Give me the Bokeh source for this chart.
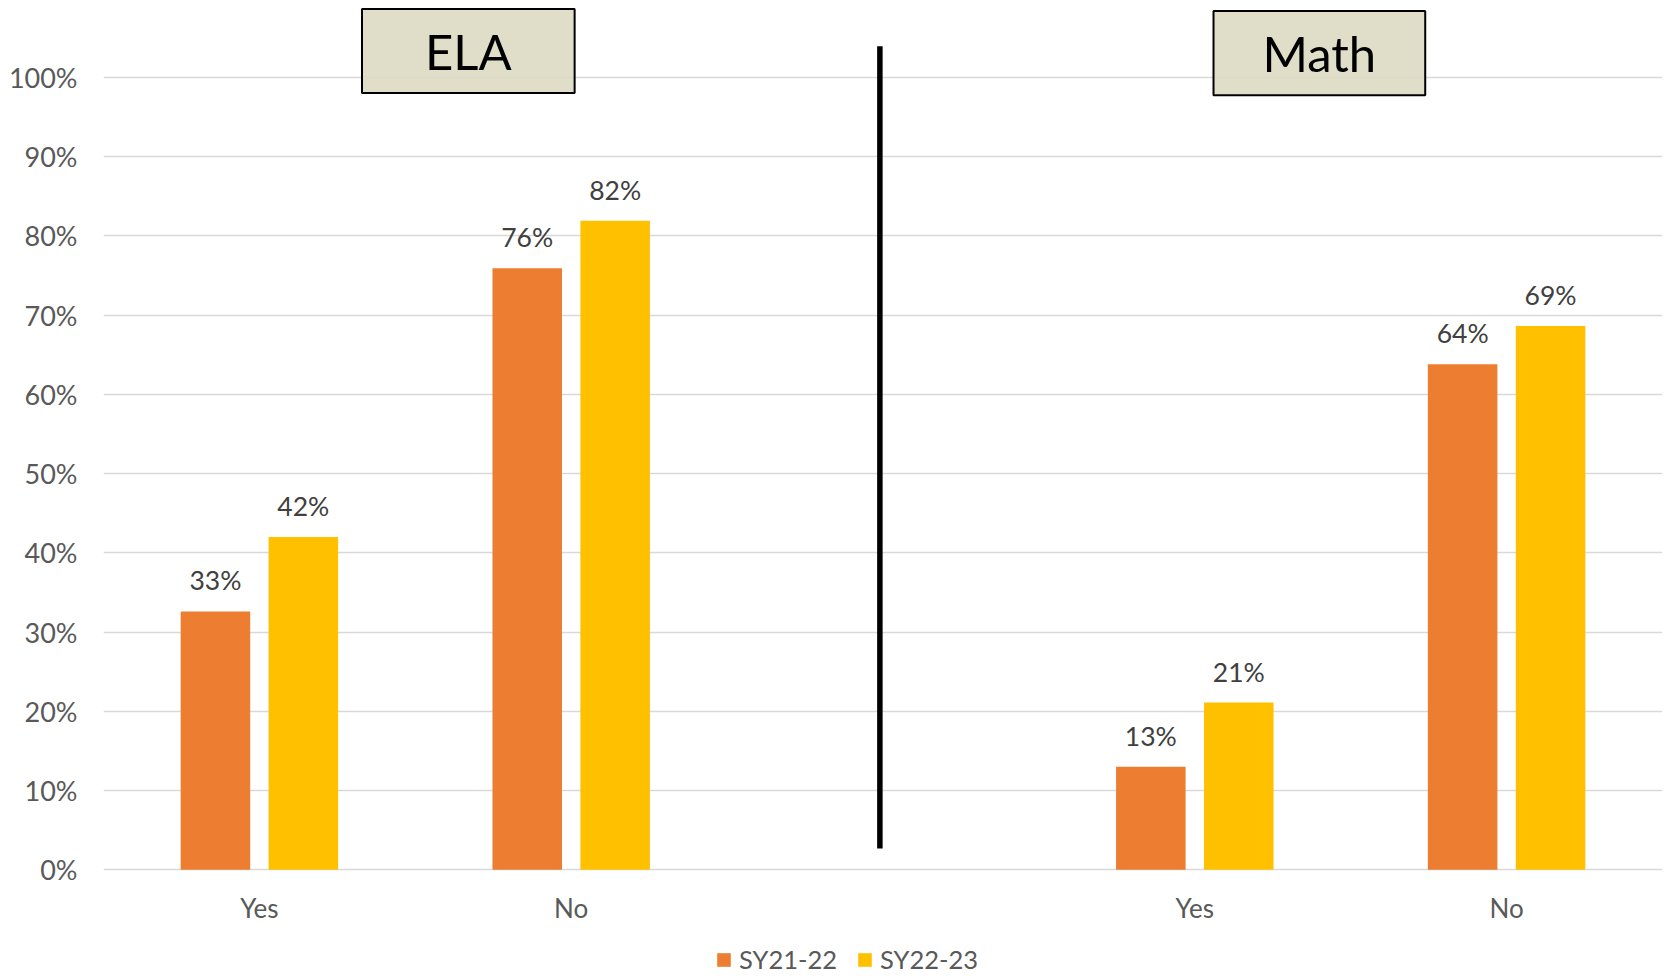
from bokeh.plotting import figure
from bokeh.models import (FixedTicker, PrintfTickFormatter, Range1d, Legend, LegendItem)
from bokeh.core.properties import value
from bokeh.embed import file_html
from bokeh.resources import INLINE

# ---- data ----
subjects = ["ELA", "ELA", "Math", "Math"]
responses = ["Yes", "No", "Yes", "No"]
series_names = ["SY21-22", "SY22-23"]
sy21_22 = [32.6, 75.9, 13.0, 63.8]
sy22_23 = [42.0, 81.9, 21.1, 68.6]
y_ticks = [0, 10, 20, 30, 40, 50, 60, 70, 80, 90, 100]
panel_titles = ["ELA", "Math"]

# ---- styling ----
ORANGE = "#ED7D31"
YELLOW = "#FFC000"
FONT = "Lato"
AXIS_GRAY = "#595959"
LABEL_GRAY = "#404040"

# category slots: ELA Yes, ELA No, (gap), Math Yes, Math No
slot = [i + (1 if subjects[i] == "Math" else 0) + 0.5 for i in range(len(subjects))]
bar_w = 0.223
off = 0.141

p = figure(width=1665, height=976, output_backend="svg", toolbar_location=None,
           title=None, x_range=Range1d(0, 5), y_range=Range1d(-13.46, 109.68),
           min_border_left=103, min_border_right=3, min_border_top=0, min_border_bottom=0)
p.outline_line_color = None
p.background_fill_color = "white"
p.xgrid.visible = False
p.ygrid.ticker = FixedTicker(ticks=y_ticks)
p.ygrid.grid_line_color = "#D9D9D9"
p.ygrid.grid_line_width = 1.5

# y axis
ya = p.yaxis[0]
ya.ticker = FixedTicker(ticks=y_ticks)
ya.formatter = PrintfTickFormatter(format="%d%%")
ya.axis_line_color = None
ya.major_tick_line_color = None
ya.minor_tick_line_color = None
ya.major_tick_out = 0
ya.major_label_standoff = 26
ya.major_label_text_font = FONT
ya.major_label_text_font_size = "27px"
ya.major_label_text_color = AXIS_GRAY

# x axis at y = 0
xa = p.xaxis[0]
xa.fixed_location = 0
xa.ticker = FixedTicker(ticks=slot)
xa.major_label_overrides = {s: r for s, r in zip(slot, responses)}
xa.axis_line_color = None
xa.major_tick_line_color = None
xa.minor_tick_line_color = None
xa.major_tick_out = 0
xa.major_label_standoff = 22
xa.major_label_text_font = FONT
xa.major_label_text_font_size = "26px"
xa.major_label_text_color = AXIS_GRAY

# bars
x1 = [s - off for s in slot]
x2 = [s + off for s in slot]
r1 = p.vbar(x=x1, top=sy21_22, width=bar_w, bottom=0, fill_color=ORANGE, line_color=None)
r2 = p.vbar(x=x2, top=sy22_23, width=bar_w, bottom=0, fill_color=YELLOW, line_color=None)

def lbl(vals):
    return [f"{int(v + 0.5)}%" for v in vals]

for xs, vals in ((x1, sy21_22), (x2, sy22_23)):
    p.text(x=xs, y=vals, text=lbl(vals), y_offset=-31, text_align="center",
           text_baseline="middle", text_font=value(FONT), text_font_size="26.5px",
           text_color=LABEL_GRAY)

# divider line
p.segment(x0=[2.49], y0=[2.69], x1=[2.49], y1=[103.9], line_color="black",
          line_width=5.5, line_cap="butt")

# title boxes
box_left = [0.829, 3.560]
box_right = [1.511, 4.239]
box_top = [108.6, 108.34]
box_bottom = [98.0, 97.74]
p.quad(left=box_left, right=box_right, top=box_top, bottom=box_bottom,
       fill_color="#DDD9C3", fill_alpha=0.9, line_color="black", line_width=2)
p.text(x=[(a + b) / 2 for a, b in zip(box_left, box_right)],
       y=[(a + b) / 2 for a, b in zip(box_top, box_bottom)],
       text=panel_titles, text_align="center", text_baseline="middle",
       text_font=value(FONT), text_font_size="49px", text_color="black")

# legend
legend = Legend(items=[LegendItem(label=series_names[0], renderers=[r1]),
                       LegendItem(label=series_names[1], renderers=[r2])],
                orientation="horizontal", location=(612, 2))
legend.padding = 0
legend.margin = 0
legend.spacing = 19
legend.label_standoff = 7
legend.glyph_width = 17
legend.glyph_height = 17
legend.label_text_font = FONT
legend.label_text_font_size = "25.5px"
legend.label_text_color = AXIS_GRAY
legend.border_line_color = None
legend.background_fill_alpha = 0
p.add_layout(legend, "center")

open("out.html", "w").write(file_html(p, INLINE))
